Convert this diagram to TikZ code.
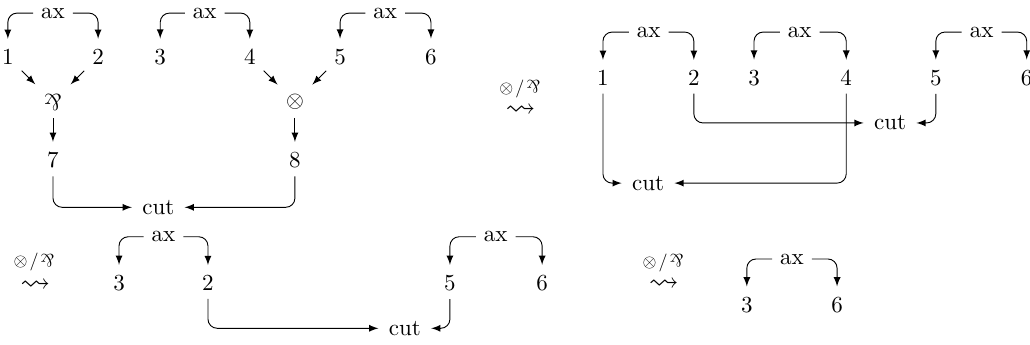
\documentclass[tikz,border=0pt]{standalone}
\usepackage{amsmath}
\usepackage{amssymb}
\usepackage{tikz}
\usetikzlibrary{positioning}

\newcommand{\parrsym}{\mathbin{\mathpalette\parrbox\relax}}
\newcommand{\parrbox}[2]{\rotatebox[origin=c]{180}{$#1\&$}}

\begin{document}
\begin{tikzpicture}[>=latex, shorten >=1pt, rounded corners=4pt,
    rulename/.style={scale=.78, inner sep=0pt},
    rulearrow/.style={scale=1.3, inner sep=0pt}]
\useasboundingbox (0,0) rectangle (15.75,-5.275);

% first net
\node (a1) at (0.12,-0.87) {1};
\node (a2) at (1.50,-0.87) {2};
\node (a3) at (2.45,-0.87) {3};
\node (a4) at (3.82,-0.87) {4};
\node (a5) at (5.20,-0.87) {5};
\node (a6) at (6.59,-0.87) {6};
\node (axa) at (0.81,-0.20) {ax};
\node (axb) at (3.13,-0.20) {ax};
\node (axc) at (5.89,-0.20) {ax};
\node (pa) at (0.81,-1.56) {$\parrsym$};
\node (ta) at (4.51,-1.56) {$\otimes$};
\node (a7) at (0.81,-2.45) {7};
\node (a8) at (4.51,-2.45) {8};
\node (cuta) at (2.42,-3.17) {cut};
\draw[->] (axa.west) -| (a1);
\draw[->] (axa.east) -| (a2);
\draw[->] (axb.west) -| (a3);
\draw[->] (axb.east) -| (a4);
\draw[->] (axc.west) -| (a5);
\draw[->] (axc.east) -| (a6);
\draw[->] (a1) -- (pa);
\draw[->] (a2) -- (pa);
\draw[->] (a4) -- (ta);
\draw[->] (a5) -- (ta);
\draw[->] (pa) -- (a7);
\draw[->] (ta) -- (a8);
\draw[->] (a7) |- (cuta);
\draw[->] (a8) |- (cuta);

\node[rulearrow] (stepa) at (7.96,-1.78) {\smash{$\rightsquigarrow$}};
\node[rulename] (rulea) at (7.95,-1.36) {$\otimes\mskip2mu/\mskip2mu\parrsym$};

% second net
\node (b1) at (9.22,-1.19) {1};
\node (b2) at (10.61,-1.19) {2};
\node (b3) at (11.53,-1.19) {3};
\node (b4) at (12.94,-1.19) {4};
\node (b5) at (14.31,-1.19) {5};
\node (b6) at (15.70,-1.19) {6};
\node (axd) at (9.92,-0.49) {ax};
\node (axe) at (12.23,-0.49) {ax};
\node (axf) at (15.01,-0.49) {ax};
\node (cutb) at (13.61,-1.88) {cut};
\node (cutc) at (9.91,-2.80) {cut};
\draw[->] (axd.west) -| (b1);
\draw[->] (axd.east) -| (b2);
\draw[->] (axe.west) -| (b3);
\draw[->] (axe.east) -| (b4);
\draw[->] (axf.west) -| (b5);
\draw[->] (axf.east) -| (b6);
\draw[->] (b2) |- (cutb);
\draw[->] (b5) |- (cutb);
\draw[->] (b1) |- (cutc);
\draw[->] (b4) |- (cutc);

\node[rulearrow] (stepb) at (0.54,-4.46) {\smash{$\rightsquigarrow$}};
\node[rulename] (ruleb) at (0.52,-4.01) {$\otimes\mskip2mu/\mskip2mu\parrsym$};

% third net
\node (c3) at (1.82,-4.33) {3};
\node (c2) at (3.18,-4.33) {2};
\node (c5) at (6.88,-4.33) {5};
\node (c6) at (8.29,-4.33) {6};
\node (axg) at (2.50,-3.62) {ax};
\node (axh) at (7.58,-3.62) {ax};
\node (cutd) at (6.19,-5.02) {cut};
\draw[->] (axg.west) -| (c3);
\draw[->] (axg.east) -| (c2);
\draw[->] (axh.west) -| (c5);
\draw[->] (axh.east) -| (c6);
\draw[->] (c2) |- (cutd);
\draw[->] (c5) |- (cutd);

\node[rulearrow] (stepc) at (10.15,-4.44) {\smash{$\rightsquigarrow$}};
\node[rulename] (rulec) at (10.14,-4.02) {$\otimes\mskip2mu/\mskip2mu\parrsym$};

% last net
\node (d3) at (11.42,-4.66) {3};
\node (d6) at (12.80,-4.66) {6};
\node (axi) at (12.11,-3.96) {ax};
\draw[->] (axi.west) -| (d3);
\draw[->] (axi.east) -| (d6);
\end{tikzpicture}
\end{document}
